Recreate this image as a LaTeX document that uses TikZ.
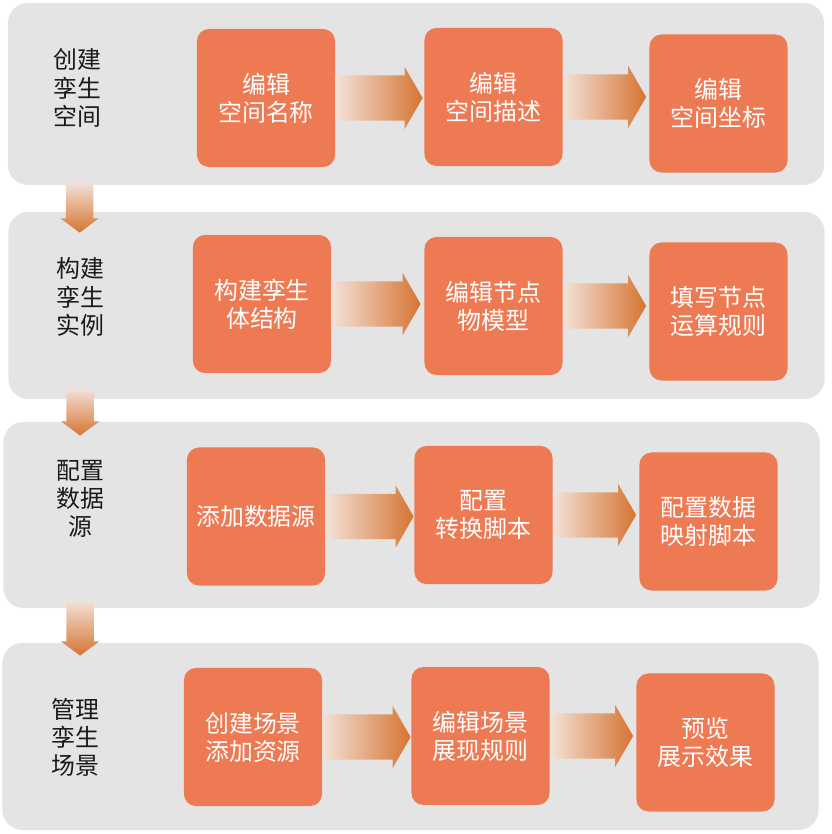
\documentclass[tikz,border=0pt]{standalone}
\usepackage{fontspec}
\setmainfont{Noto Sans CJK SC}
\usetikzlibrary{shapes.arrows, calc}
\definecolor{panelgray}{RGB}{228,228,228}
\definecolor{boxorange}{RGB}{238,122,84}
\definecolor{arrowlight}{RGB}{243,226,216}
\definecolor{arrowdark}{RGB}{214,116,50}
\definecolor{labeltext}{RGB}{26,26,26}

\begin{document}
\begin{tikzpicture}[x=0.025cm, y=-0.025cm, font=\fontsize{17}{20}\selectfont,
  panel/.style={fill=panelgray, rounded corners=0.5cm, minimum width=20.4cm, minimum height=4.65cm, inner sep=0},
  box/.style={fill=boxorange, rounded corners=0.3cm, minimum width=3.45cm, minimum height=3.45cm, align=center, text=white, inner sep=0},
  lab/.style={align=center, text=labeltext},
  harrow/.style={single arrow, anchor=tail, inner sep=0.56cm, single arrow head extend=0.21cm, single arrow tip angle=120, left color=arrowlight, right color=arrowdark},
  varrow/.style={single arrow, shape border rotate=270, anchor=tail, inner sep=0.3375cm, single arrow head extend=0.14cm, single arrow tip angle=107, top color=arrowlight, bottom color=arrowdark}]
\useasboundingbox (0,0) rectangle (832,834);

% stage panels
\node[panel, minimum height=4.55cm] (row1) at (416,94) {};
\node[panel, minimum height=4.675cm] (row2) at (416.5,305.5) {};
\node[panel] (row3) at (411.5,515) {};
\node[panel, minimum height=4.675cm] (row4) at (410.5,736.5) {};

\node[varrow, minimum height=1.25cm] (v1) at ($(row1.south west)+(72,-3)$) {};
\node[varrow, minimum height=1.175cm] (v2) at ($(row2.south west)+(72,-11)$) {};
\node[varrow, minimum height=1.375cm] (v3) at ($(row3.south west)+(77,-8)$) {};

\node[lab] (lab1) at (77,88) {创建\\孪生\\空间};
\node[lab] (lab2) at (80,297) {构建\\孪生\\实例};
\node[lab] (lab3) at (80,499) {配置\\数据\\源};
\node[lab] (lab4) at (75,737) {管理\\孪生\\场景};

% step boxes
\node[box] (b11) at (266,98) {编辑\\空间名称};
\node[box] (b12) at (493.5,97) {编辑\\空间描述};
\node[box] (b13) at (718.5,103.5) {编辑\\空间坐标};
\node[box] (b21) at (262,304) {构建孪生\\体结构};
\node[box] (b22) at (493.5,306) {编辑节点\\物模型};
\node[box] (b23) at (718.5,311.5) {填写节点\\运算规则};
\node[box] (b31) at (256,516.5) {添加数据源};
\node[box] (b32) at (483.5,515) {配置\\转换脚本};
\node[box] (b33) at (708.5,521.5) {配置数据\\映射脚本};
\node[box] (b41) at (253,737) {创建场景\\添加资源};
\node[box] (b42) at (480.5,736) {编辑场景\\展现规则};
\node[box] (b43) at (705.5,742.5) {预览\\展示效果};

\node[harrow, minimum height=2.175cm] (h11) at (b11.east) {};
\node[harrow, minimum height=2.075cm] (h12) at (b12.east) {};
\node[harrow, minimum height=2.225cm] (h21) at (b21.east) {};
\node[harrow, minimum height=2.075cm] (h22) at (b22.east) {};
\node[harrow, minimum height=2.2cm] (h31) at (b31.east) {};
\node[harrow, minimum height=2.075cm] (h32) at (b32.east) {};
\node[harrow, minimum height=2.2cm] (h41) at (b41.east) {};
\node[harrow, minimum height=2.075cm] (h42) at (b42.east) {};
\end{tikzpicture}
\end{document}
